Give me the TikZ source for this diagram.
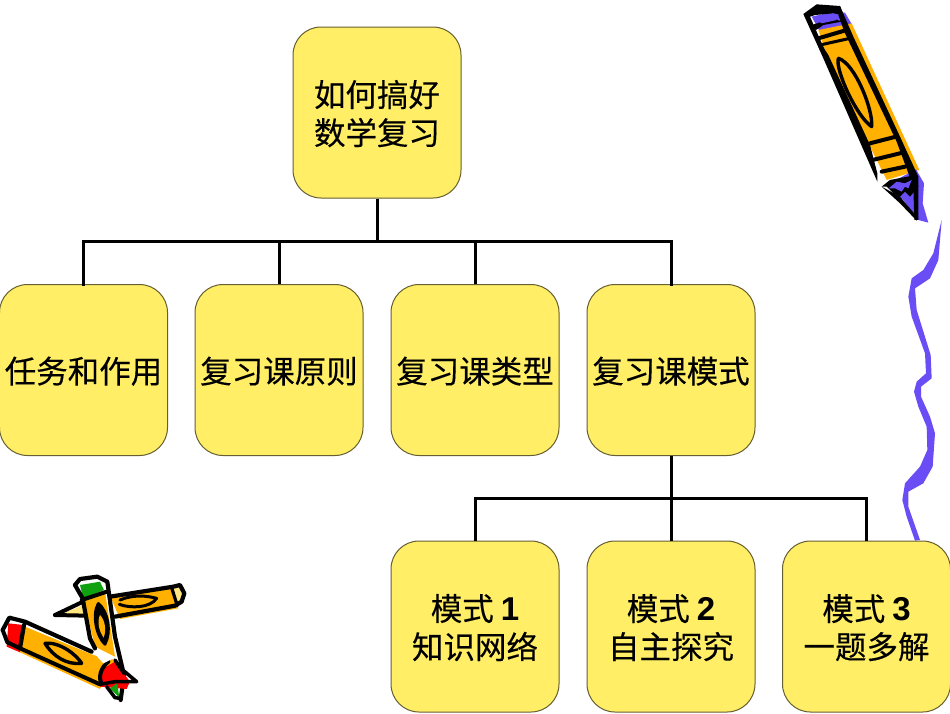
\documentclass[tikz,border=0pt]{standalone}
\usepackage{fontspec}
\setmainfont{Noto Sans CJK SC}[FakeBold=0.25]
\newfontfamily\latinb{Liberation Sans}
\definecolor{boxfill}{HTML}{FFEE66}
\definecolor{boxline}{HTML}{665F33}
\definecolor{pencilorange}{HTML}{FFB000}
\definecolor{pencilpurple}{HTML}{6A4DF5}
\definecolor{pencilgreen}{HTML}{10A010}
\definecolor{palelemon}{HTML}{FFE680}
\tikzset{
  card/.style={draw=boxline,line width=1pt,fill=boxfill,rounded corners=28pt,minimum width=168pt,inner sep=0pt,
    font=\fontsize{31.5}{38}\selectfont,text=black},
  tall/.style={card,minimum height=171pt},
  link/.style={draw=black,line width=3pt},
  ink/.style={draw=black,line width=3.2pt,line join=round,line cap=round},
  inkf/.style={fill=black,draw=none}
}
\newcommand{\dig}[1]{{\latinb\bfseries\fontsize{33}{38}\selectfont #1}}
\newcommand{\tx}[1]{\raisebox{0pt}[\dimexpr\height+11pt\relax][\depth]{\begin{tabular}{@{}c@{}}#1\end{tabular}}}
\begin{document}
\begin{tikzpicture}[x=1pt,y=-1pt]
\useasboundingbox[fill=white] (0,0) rectangle (950,713);
\node[tall] (top) at (377,112.5) {\tx{如何搞好\\数学复习}};
\node[tall] (a) at (83.5,370) {\tx{任务和作用}};
\node[tall] (b) at (279,370) {\tx{复习课原则}};
\node[tall] (c) at (475,370) {\tx{复习课类型}};
\node[tall] (d) at (671,370) {\tx{复习课模式}};
\node[tall] (e) at (475,626.5) {\tx{模式 \dig{1}\\知识网络}};
\node[tall] (f) at (671,626.5) {\tx{模式 \dig{2}\\自主探究}};
\node[tall] (g) at (866.5,626.5) {\tx{模式 \dig{3}\\一题多解}};
\coordinate (bus1) at (377,241);
\coordinate (bus2) at (671,498);
\draw[link] (top.south) -- (bus1);
\draw[link,line cap=rect] (a.north) |- (bus1);
\draw[link] (b.north) |- (bus1);
\draw[link] (c.north) |- (bus1);
\draw[link,line cap=rect] (d.north) |- (bus1);
\draw[link] (d.south) -- (f.north);
\draw[link] (e.north) |- (bus2);
\draw[link] (g.north) |- (bus2);
% lightning
\begin{scope}[shift={(890,210)},x=0.3333pt,y=-0.3333pt]
\fill[pencilpurple] (155,30)--(130,130)--(100,180)--(65,205)--(55,260)--(65,320)--(105,430)--(108,490)--(80,515)--(72,545)--(85,590)--(110,650)--(112,720)--(90,770)--(45,820)--(37,870)--(50,920)--(75,992)--(90,990)--(55,890)--(55,845)--(100,820)--(128,770)--(135,670)--(120,620)--(93,560)--(93,530)--(125,505)--(122,435)--(80,300)--(75,235)--(120,205)--(145,150)--cycle;
\end{scope}
% upper pencil
\begin{scope}[shift={(790,0)},x=0.3333pt,y=-0.3333pt]
\fill[pencilpurple] (165,38)--(185,72)--(90,95)--(65,50)--(130,35)--cycle;
\fill[pencilorange] (85,90)--(185,70)--(388,510)--(290,540)--(240,440)--(110,165)--cycle;
\fill[pencilpurple] (378,508)--(402,550)--(398,610)--(415,668)--(385,660)--(340,600)--(290,555)--cycle;
\fill[inkf] (40,42)--(80,13)--(150,18)--(160,45)--(130,40)--(75,45)--(60,50)--(90,118)--(105,150)--(115,165)--(240,435)--(262,520)--(262,545)--(100,175)--cycle;
\fill[inkf] (150,18)--(190,110)--(330,410)--(385,530)--(385,660)--(373,660)--(370,560)--(320,425)--(165,100)--(145,45)--cycle;
\fill[inkf] (275,560)--(300,540)--(378,525)--(385,560)--(360,590)--(345,575)--(330,590)--(310,580)--(290,560)--cycle;
\fill[pencilpurple] (296,565)--(320,545)--(345,550)--(365,540)--(355,565)--(345,560)--(335,575)--(315,565)--cycle;
\fill[inkf] (275,560)--(330,590)--(385,655)--(380,662)--(330,610)--cycle;
\fill[inkf] (65,75)--(130,55)--(155,65)--(100,75)--(78,90)--cycle;
\fill[pencilpurple] (75,55)--(130,40)--(140,60)--(95,70)--cycle;
\draw[ink,line width=4pt] (85,115) -- (170,90);
\draw[ink,line width=3pt] (90,135) -- (180,115);
\draw[ink,line width=4pt] (240,430) -- (318,410);
\draw[ink,line width=4pt] (248,480) -- (338,458);
\draw[ink,line width=4pt] (275,515) -- (345,500);
\draw[ink,line width=3.4pt] (145,175) .. controls (135,210) and (200,350) .. (245,380) .. controls (250,330) and (195,190) .. (145,175);
\end{scope}
% crossed pencils
\begin{scope}[shift={(0,565)},x=0.3333pt,y=-0.3333pt]
\fill[palelemon] (510,70)--(545,62)--(550,100)--(530,118)--cycle;
\fill[pencilorange] (330,92)--(515,68)--(535,130)--(360,162)--cycle;
\fill[palelemon] (190,145)--(250,120)--(265,150)--cycle;
\draw[ink,line width=4.2pt] (330,95) -- (520,65) -- (540,60) -- (553,85) -- (545,110) -- (525,122) -- (345,155);
\draw[ink] (515,68) -- (532,122);
\draw[ink,line width=4pt] (165,150) -- (245,112);
\draw[ink,line width=4pt] (165,150) -- (260,152);
\draw[ink,line width=3pt] (360,105) .. controls (400,88) and (440,92) .. (470,100) .. controls (450,130) and (390,130) .. (358,118);
\fill[pencilgreen] (240,60)--(300,50)--(312,75)--(250,100)--cycle;
\fill[pencilorange] (250,100)--(315,80)--(345,275)--(285,245)--cycle;
\draw[ink,line width=4.2pt] (225,60) -- (240,42) -- (292,35) -- (322,50) -- (345,215) -- (372,330) -- (362,405);
\draw[ink,line width=4.2pt] (225,60) -- (248,100) -- (270,220) -- (285,250);
\draw[ink,line width=4pt] (245,105) -- (320,80);
\draw[ink,line width=2.8pt,fill=black] (295,115) .. controls (275,150) and (290,215) .. (315,238) .. controls (335,200) and (325,140) .. (295,115);
\fill[pencilorange] (300,150) .. controls (290,170) and (298,200) .. (311,218) .. controls (320,195) and (315,165) .. (300,150);
\fill[red] (25,175)--(70,180)--(60,262)--(20,245)--cycle;
\fill[pencilorange] (75,185)--(280,270)--(345,285)--(300,372)--(60,262)--cycle;
\fill[red] (310,310)--(345,290)--(390,350)--(380,372)--(300,365)--cycle;
\fill[pencilgreen] (330,370)--(352,355)--(358,398)--cycle;
\draw[ink,line width=4.2pt] (8,195) -- (28,158) -- (75,170) -- (275,260);
\draw[ink,line width=4pt] (8,195) -- (22,232) -- (65,252) -- (300,358);
\draw[ink,line width=4.2pt] (72,180) -- (60,250);
\draw[ink,line width=4pt] (325,290) .. controls (300,310) and (295,340) .. (305,355);
\draw[ink,line width=3.4pt] (135,235) .. controls (180,230) and (230,270) .. (245,295) .. controls (200,300) and (160,275) .. (135,235);
\fill[white] (280,262)--(345,278)--(310,295)--cycle;
\draw[ink,line width=3.5pt] (300,358) -- (345,350) -- (410,350) -- (372,318);
\draw[ink,line width=3.5pt] (320,365) -- (345,398) -- (360,400);
\draw[ink,line width=3.5pt] (345,285) -- (372,325);
\end{scope}
\end{tikzpicture}
\end{document}
